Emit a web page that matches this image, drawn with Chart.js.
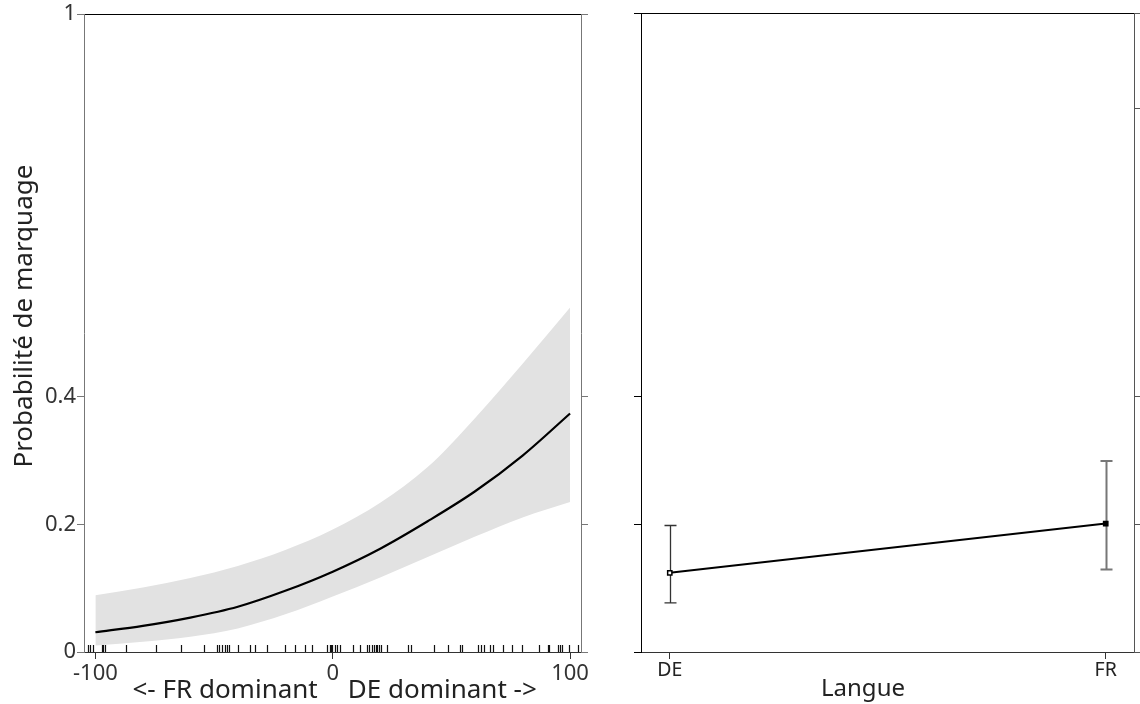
<!DOCTYPE html>
<html>
<head>
<meta charset="utf-8">
<script src="https://cdn.jsdelivr.net/npm/chart.js@4.4.0/dist/chart.umd.min.js"></script>
<style>
  html, body { margin: 0; padding: 0; background: #fff; }
  #wrap { position: relative; width: 1140px; height: 704px; }
  canvas { position: absolute; top: 0; }
  #dominance { left: 0; }
  #langue { left: 600px; }
</style>
</head>
<body>
<div id="wrap">
  <canvas id="dominance" width="600" height="704"></canvas>
  <canvas id="langue" width="540" height="704"></canvas>
</div>
<script>
// dominance score: -100 = FR dominant, 100 = DE dominant
const domSteps  = [-100, -80, -60, -40, -20, 0, 20, 40, 60, 80, 100];
const fitProb   = [0.031, 0.041, 0.054, 0.071, 0.096, 0.126, 0.162, 0.205, 0.252, 0.308, 0.374];
const upperProb = [0.089, 0.101, 0.116, 0.135, 0.160, 0.192, 0.234, 0.290, 0.367, 0.452, 0.540];
const lowerProb = [0.010, 0.016, 0.024, 0.037, 0.059, 0.087, 0.117, 0.149, 0.181, 0.211, 0.235];

// observed scores along the bottom axis
const rugValues = [-103.1, -102.1, -101, -97.4, -96.6, -96.1, -86.9, -74.3, -63.8, -54.3,
  -48.9, -47.9, -46.7, -45.6, -44.7, -43.8, -40.1, -35.0, -32.6, -27.8, -20.1, -15.9,
  -11.7, -8.9, -2.5, -1.1, -0.8, -0.4, 1.0, 1.9, 3.1, 8.7, 11.5, 14.3, 15.1, 16.6, 17.3,
  18.1, 18.8, 19.5, 20.2, 22.9, 31.9, 33.0, 42.8, 48.6, 53.7, 54.4, 61.0, 62.4, 63.9,
  66.1, 67.5, 71.9, 75.5, 79.7, 86.7, 90.5, 91.0, 94.8, 95.6, 96.6, 99.4, 103.2];

const domTicks  = [-100, 0, 100];
const probTicks = [0, 0.2, 0.4, 1];

// language effect
const langues   = ['DE', 'FR'];
const langProb  = [0.124, 0.201];
const langLow   = [0.077, 0.129];
const langHigh  = [0.198, 0.299];
const farSideTicks = [0, 0.2, 0.4, 0.85, 1];

Chart.defaults.font.family = '"Noto Sans", "Open Sans", sans-serif';
Chart.defaults.color = '#333';
Chart.defaults.animation = false;

const pts = (xs, ys) => xs.map((x, i) => ({ x: x, y: ys[i] }));
const fixTicks = values => axis => { axis.ticks = values.map(v => ({ value: v })); };

// plain axis without labels, only outward ticks
function bareAxis(position, ticks, width, color) {
  return {
    type: 'linear', position: position, min: 0, max: 1,
    afterBuildTicks: fixTicks(ticks),
    afterFit: s => { s.width = width; },
    grid: { drawOnChartArea: false, tickLength: 7, tickColor: color },
    border: { color: color, width: 1 },
    ticks: { display: false }
  };
}

function topAxis(min, max) {
  return {
    type: 'linear', position: 'top', min: min, max: max,
    afterFit: s => { s.height = 0; },
    grid: { display: false },
    border: { color: '#000', width: 1 },
    ticks: { display: false }
  };
}

// axis titles drawn at fixed spots around the plot area
const titlesPlugin = {
  id: 'titles',
  afterDraw(chart, args, opts) {
    const ctx = chart.ctx;
    ctx.save();
    ctx.fillStyle = '#222';
    ctx.textBaseline = 'middle';
    opts.items.forEach(t => {
      ctx.font = t.size + 'px "Noto Sans", "Open Sans", sans-serif';
      ctx.textAlign = t.align || 'center';
      ctx.save();
      ctx.translate(t.x(chart), t.y(chart));
      if (t.rotate) ctx.rotate(-Math.PI / 2);
      ctx.fillText(t.text, 0, 0);
      ctx.restore();
    });
    ctx.restore();
  }
};

const rugPlugin = {
  id: 'rug',
  afterDatasetsDraw(chart, args, opts) {
    const { ctx, scales: { x, y } } = chart;
    const base = y.getPixelForValue(0);
    ctx.save();
    ctx.strokeStyle = '#111';
    ctx.lineWidth = 1.2;
    ctx.beginPath();
    opts.values.forEach(v => {
      const px = Math.round(x.getPixelForValue(v)) + 0.5;
      ctx.moveTo(px, base);
      ctx.lineTo(px, base - 7);
    });
    ctx.stroke();
    ctx.restore();
  }
};

const errorBarPlugin = {
  id: 'errorBars',
  beforeDatasetsDraw(chart, args, opts) {
    const { ctx, scales: { x, y } } = chart;
    ctx.save();
    opts.low.forEach((lo, i) => {
      const px = Math.round(x.getPixelForValue(i)) + 0.5;
      const y0 = y.getPixelForValue(lo);
      const y1 = y.getPixelForValue(opts.high[i]);
      ctx.strokeStyle = opts.colors[i];
      ctx.lineWidth = opts.widths[i];
      ctx.beginPath();
      ctx.moveTo(px, y0); ctx.lineTo(px, y1);
      ctx.moveTo(px - 6, y0); ctx.lineTo(px + 6, y0);
      ctx.moveTo(px - 6, y1); ctx.lineTo(px + 6, y1);
      ctx.stroke();
    });
    ctx.restore();
  }
};

// left panel: probability against dominance
// (datasets are painted last-to-first, so the fitted line goes first to stay on top of the band)
new Chart(document.getElementById('dominance'), {
  type: 'line',
  data: {
    datasets: [
      { data: pts(domSteps, fitProb), borderColor: '#000', borderWidth: 2.2, pointRadius: 0,
        fill: false, cubicInterpolationMode: 'monotone' },
      { data: pts(domSteps, upperProb), borderWidth: 0, pointRadius: 0,
        backgroundColor: '#e2e2e2', fill: '+1', cubicInterpolationMode: 'monotone' },
      { data: pts(domSteps, lowerProb), borderWidth: 0, pointRadius: 0,
        fill: false, cubicInterpolationMode: 'monotone' }
    ]
  },
  options: {
    responsive: false,
    layout: { padding: { top: 13, right: 12, left: 0, bottom: 0 } },
    plugins: {
      legend: { display: false },
      tooltip: { enabled: false },
      rug: { values: rugValues },
      titles: {
        items: [
          { text: 'Probabilité de marquage', size: 26, rotate: true,
            x: c => c.chartArea.left - 59, y: c => (c.chartArea.top + c.chartArea.bottom) / 2 - 17 },
          { text: '<- FR dominant', size: 26, align: 'right',
            x: c => c.scales.x.getPixelForValue(0) - 15, y: c => c.chartArea.bottom + 39 },
          { text: 'DE dominant ->', size: 26, align: 'left',
            x: c => c.scales.x.getPixelForValue(0) + 15, y: c => c.chartArea.bottom + 39 }
        ]
      }
    },
    scales: {
      x: {
        type: 'linear', min: -104.8, max: 104.6,
        afterBuildTicks: fixTicks(domTicks),
        afterFit: s => { s.height = 52; },
        grid: { drawOnChartArea: false, tickLength: 7, tickColor: '#333' },
        border: { color: '#333', width: 1 },
        ticks: { font: { size: 22 }, color: '#333', padding: 2, maxRotation: 0 }
      },
      xTop: topAxis(-104.8, 104.6),
      y: {
        type: 'linear', min: 0, max: 1,
        afterBuildTicks: fixTicks(probTicks),
        afterFit: s => { s.width = 84; },
        grid: { drawOnChartArea: false, tickLength: 7, tickColor: '#777' },
        border: { color: '#777', width: 1 },
        ticks: { font: { size: 22 }, color: '#333', padding: 1, callback: v => String(v) }
      },
      y2: bareAxis('right', probTicks, 7, '#777')
    }
  },
  plugins: [rugPlugin, titlesPlugin]
});

// right panel: probability by language
new Chart(document.getElementById('langue'), {
  type: 'line',
  data: {
    datasets: [
      { data: pts([0, 1], langProb), borderColor: '#000', borderWidth: 2,
        pointStyle: 'rect', pointRadius: 3, pointBorderWidth: 1.5,
        pointBorderColor: '#000', pointBackgroundColor: ['#fff', '#000'], fill: false }
    ]
  },
  options: {
    responsive: false,
    layout: { padding: { top: 13, right: 0, left: 0, bottom: 0 } },
    plugins: {
      legend: { display: false },
      tooltip: { enabled: false },
      errorBars: { low: langLow, high: langHigh, colors: ['#333', '#777'], widths: [1.3, 2] },
      titles: {
        items: [
          { text: 'Langue', size: 24,
            x: c => c.chartArea.left + 222, y: c => c.chartArea.bottom + 37 }
        ]
      }
    },
    scales: {
      x: {
        type: 'linear', min: -0.066, max: 1.066,
        afterBuildTicks: fixTicks([0, 1]),
        afterFit: s => { s.height = 52; },
        grid: { drawOnChartArea: false, tickLength: 7, tickColor: '#333' },
        border: { color: '#333', width: 1 },
        ticks: { font: { size: 19.5 }, color: '#222', padding: 0, maxRotation: 0,
                 callback: v => langues[v] }
      },
      xTop: topAxis(-0.066, 1.066),
      y: bareAxis('left', probTicks, 41, '#000'),
      y2: bareAxis('right', farSideTicks, 4, '#555')
    }
  },
  plugins: [errorBarPlugin, titlesPlugin]
});
</script>
</body>
</html>
